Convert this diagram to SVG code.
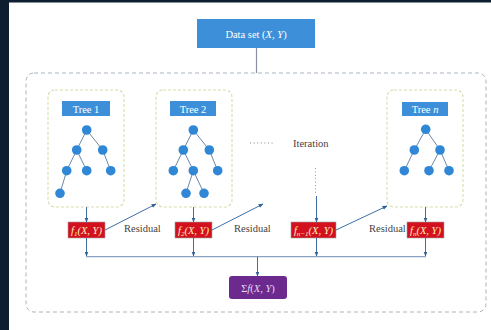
<svg xmlns="http://www.w3.org/2000/svg" width="491" height="330" viewBox="0 0 491 330">
<defs>
<style>
.blue{fill:#3c8fd8;}
.t{font-family:"Liberation Serif",serif;font-size:10.5px;fill:#ffffff;text-anchor:middle;}
.lbl{font-family:"Liberation Serif",serif;font-size:10.5px;fill:#444444;}
.tb{fill:none;stroke:#d9dba8;stroke-width:1.1;stroke-dasharray:3,2;}
.node{fill:#2f87d6;}
.edge{stroke:#6b87a6;stroke-width:1;}
.red{fill:#d3101e;stroke:#a0a0a0;stroke-width:0.6;}
.ft{font-family:"Liberation Serif",serif;font-size:10.5px;fill:#fff3c0;font-style:italic;text-anchor:middle;}
.con{stroke:#3d6fa6;stroke-width:1;fill:none;}
</style>
<marker id="ah" viewBox="0 0 10 10" refX="9" refY="5" markerWidth="5" markerHeight="5" orient="auto">
<path d="M0,1 L10,5 L0,9 z" fill="#2e5f96"/>
</marker>
</defs>
<rect x="0" y="0" width="491" height="330" fill="#ffffff"/>
<rect x="0" y="0" width="491" height="2.5" fill="#0c1e30"/>
<rect x="0" y="0" width="9" height="330" fill="#0c1e30"/>

<rect x="26" y="73" width="460" height="239" rx="8" fill="none" stroke="#a8b4bf" stroke-width="1" stroke-dasharray="4,3"/>

<g id="dataset">
<rect class="blue" x="197" y="19" width="118" height="29"/>
<text class="t" x="256" y="37.5">Data set (<tspan font-style="italic">X</tspan>, <tspan font-style="italic">Y</tspan>)</text>
</g>

<g id="tree1">
<rect class="tb" x="48" y="90" width="76" height="117" rx="7"/>
<rect class="blue" x="62" y="101" width="48" height="15"/>
<text class="t" x="86" y="112.5">Tree 1</text>
<g class="edge">
<line x1="86.7" y1="130" x2="76.7" y2="150"/><line x1="86.7" y1="130" x2="102.7" y2="150"/>
<line x1="76.7" y1="150" x2="66.7" y2="170.7"/><line x1="76.7" y1="150" x2="86.7" y2="170.7"/>
<line x1="102.7" y1="150" x2="110.7" y2="170.7"/><line x1="66.7" y1="170.7" x2="60" y2="193.3"/>
</g>
<g class="node">
<circle cx="86.7" cy="130" r="4.8"/><circle cx="76.7" cy="150" r="4.8"/><circle cx="102.7" cy="150" r="4.8"/>
<circle cx="66.7" cy="170.7" r="4.8"/><circle cx="86.7" cy="170.7" r="4.8"/><circle cx="110.7" cy="170.7" r="4.8"/>
<circle cx="60" cy="193.3" r="4.8"/>
</g>
</g>

<g id="tree2">
<rect class="tb" x="156" y="90" width="76" height="117" rx="7"/>
<rect class="blue" x="170" y="101" width="46" height="15"/>
<text class="t" x="193" y="112.5">Tree 2</text>
<g class="edge">
<line x1="193.3" y1="130" x2="183.3" y2="150"/><line x1="193.3" y1="130" x2="209.3" y2="150"/>
<line x1="183.3" y1="150" x2="173.3" y2="170.7"/><line x1="183.3" y1="150" x2="193.3" y2="170.7"/>
<line x1="209.3" y1="150" x2="217.7" y2="170.7"/>
<line x1="193.3" y1="170.7" x2="186" y2="193.3"/><line x1="193.3" y1="170.7" x2="204" y2="193.3"/>
</g>
<g class="node">
<circle cx="193.3" cy="130" r="4.8"/><circle cx="183.3" cy="150" r="4.8"/><circle cx="209.3" cy="150" r="4.8"/>
<circle cx="173.3" cy="170.7" r="4.8"/><circle cx="193.3" cy="170.7" r="4.8"/><circle cx="217.7" cy="170.7" r="4.8"/>
<circle cx="186" cy="193.3" r="4.8"/><circle cx="204" cy="193.3" r="4.8"/>
</g>
</g>

<g id="treen">
<rect class="tb" x="387" y="90" width="76" height="117" rx="7"/>
<rect class="blue" x="402" y="102" width="46" height="14"/>
<text class="t" x="425" y="112.5">Tree <tspan font-style="italic">n</tspan></text>
<g class="edge">
<line x1="425.7" y1="129.3" x2="414.3" y2="150"/><line x1="425.7" y1="129.3" x2="440" y2="150"/>
<line x1="414.3" y1="150" x2="404.3" y2="170.7"/>
<line x1="440" y1="150" x2="429" y2="170.7"/><line x1="440" y1="150" x2="449" y2="170.7"/>
</g>
<g class="node">
<circle cx="425.7" cy="129.3" r="4.8"/><circle cx="414.3" cy="150" r="4.8"/><circle cx="440" cy="150" r="4.8"/>
<circle cx="404.3" cy="170.7" r="4.8"/><circle cx="429" cy="170.7" r="4.8"/><circle cx="449" cy="170.7" r="4.8"/>
</g>
</g>

<g id="iteration">
<line x1="250" y1="143" x2="273" y2="143" stroke="#888" stroke-width="1" stroke-dasharray="1,2.6"/>
<text class="lbl" x="293" y="147" font-size="11">Iteration</text>
<line x1="315.5" y1="168" x2="315.5" y2="194" stroke="#999" stroke-width="1" stroke-dasharray="1,2.4"/>
</g>

<g id="f1">
<rect class="red" x="68" y="222" width="37" height="16"/>
<text class="ft" x="86.5" y="233.5">f<tspan font-size="7" dy="2">1</tspan><tspan dy="-2">(X, Y)</tspan></text>
</g>
<g id="f2">
<rect class="red" x="175" y="222" width="37" height="16"/>
<text class="ft" x="193.5" y="233.5">f<tspan font-size="7" dy="2">2</tspan><tspan dy="-2">(X, Y)</tspan></text>
</g>
<g id="fn1">
<rect class="red" x="291" y="222" width="45" height="16"/>
<text class="ft" x="313.5" y="233.5">f<tspan font-size="7" dy="2">n−1</tspan><tspan dy="-2">(X, Y)</tspan></text>
</g>
<g id="fn">
<rect class="red" x="407" y="222" width="37" height="16"/>
<text class="ft" x="425.5" y="233.5">f<tspan font-size="7" dy="2">n</tspan><tspan dy="-2">(X, Y)</tspan></text>
</g>

<g id="sum">
<rect x="229" y="276" width="58" height="23" rx="3" fill="#6c2a8e"/>
<text x="258" y="291.5" font-family="Liberation Serif, serif" font-size="10.5" fill="#e6d6f0" text-anchor="middle">Σ<tspan font-style="italic">f</tspan>(<tspan font-style="italic">X</tspan>, <tspan font-style="italic">Y</tspan>)</text>
</g>

<g id="labels">
<text class="lbl" x="124" y="231.5">Residual</text>
<text class="lbl" x="234" y="231.5">Residual</text>
<text class="lbl" x="369" y="231.5">Residual</text>
</g>

<g id="connectors">
<line x1="256.5" y1="48" x2="256.5" y2="73" stroke="#8a8fa0" stroke-width="1.2"/>
<line class="con" x1="86.5" y1="207" x2="86.5" y2="222" marker-end="url(#ah)"/>
<line class="con" x1="193.5" y1="207" x2="193.5" y2="222" marker-end="url(#ah)"/>
<line class="con" x1="316.5" y1="196" x2="316.5" y2="222" marker-end="url(#ah)"/>
<line class="con" x1="425.5" y1="207" x2="425.5" y2="222" marker-end="url(#ah)"/>
<line class="con" x1="105" y1="230" x2="156" y2="204" marker-end="url(#ah)"/>
<line class="con" x1="212" y1="230" x2="263" y2="204" marker-end="url(#ah)"/>
<line class="con" x1="336" y1="230" x2="387" y2="206" marker-end="url(#ah)"/>
<line class="con" x1="86.5" y1="238" x2="86.5" y2="256" marker-end="url(#ah)"/>
<line class="con" x1="193.5" y1="238" x2="193.5" y2="256" marker-end="url(#ah)"/>
<line class="con" x1="316.5" y1="238" x2="316.5" y2="256" marker-end="url(#ah)"/>
<line class="con" x1="425.5" y1="238" x2="425.5" y2="256" marker-end="url(#ah)"/>
<line x1="86" y1="256.7" x2="426" y2="256.7" stroke="#8aa2c0" stroke-width="1.2"/>
<line class="con" x1="257.5" y1="256.7" x2="257.5" y2="276" marker-end="url(#ah)"/>
</g>
</svg>
